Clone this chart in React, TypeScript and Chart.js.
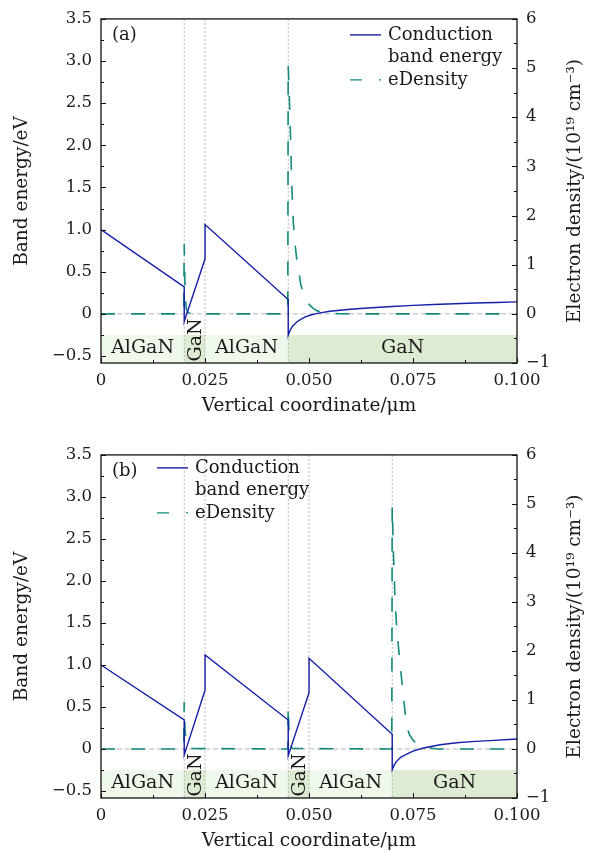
import React, { useEffect, useRef } from 'react';
import { Chart, registerables } from 'chart.js';

Chart.register(...registerables);

const FONT = 'DejaVu Serif';
const TEXT_COLOR = '#1a1a1a';
const CB_COLOR = '#1420a8';
const ED_COLOR = '#138a7c';
const ALGAN_FILL = '#eff9eb';
const GAN_FILL = '#dcebd1';

// ---- axis ticks ----
const X_TICKS = [0, 0.025, 0.05, 0.075, 0.1];
const X_TICK_LABELS = ['0', '0.025', '0.050', '0.075', '0.100'];
const LEFT_TICKS = [-0.5, 0, 0.5, 1, 1.5, 2, 2.5, 3, 3.5];
const LEFT_TICK_LABELS = ['\u22120.5', '0', '0.5', '1.0', '1.5', '2.0', '2.5', '3.0', '3.5'];
const RIGHT_TICKS = [-1, 0, 1, 2, 3, 4, 5, 6];
const RIGHT_TICK_LABELS = ['\u22121', '0', '1', '2', '3', '4', '5', '6'];
const LAYER_TOP = -0.25;

// ---- panel (a) ----
const A_CB_X = [0, 0.02, 0.02001, 0.025, 0.02501, 0.045, 0.04501, 0.0455, 0.046, 0.047, 0.048, 0.049, 0.05, 0.052, 0.055, 0.06, 0.065, 0.07, 0.075, 0.08, 0.085, 0.09, 0.095, 0.1];
const A_CB_Y = [1.0, 0.32, -0.09, 0.65, 1.06, 0.17, -0.255, -0.19, -0.15, -0.1, -0.065, -0.04, -0.02, 0.005, 0.03, 0.055, 0.073, 0.088, 0.1, 0.11, 0.12, 0.128, 0.135, 0.142];
const A_ED_X = [0, 0.0199, 0.02, 0.0202, 0.0205, 0.021, 0.025, 0.0449, 0.045, 0.0452, 0.0455, 0.0458, 0.0462, 0.0466, 0.047, 0.0475, 0.048, 0.049, 0.05, 0.051, 0.052, 0.054, 0.057, 0.06, 0.1];
const A_ED_Y = [0, 0, 1.42, 0.5, 0.1, 0.02, 0, 0, 5.05, 4.6, 3.8, 2.8, 1.9, 1.45, 1.15, 0.9, 0.6, 0.33, 0.19, 0.11, 0.06, 0.02, 0.005, 0, 0];
const A_LAYER_START = [0, 0.02, 0.025, 0.045];
const A_LAYER_END = [0.02, 0.025, 0.045, 0.1];
const A_LAYER_NAME = ['AlGaN', 'GaN', 'AlGaN', 'GaN'];
const A_INTERFACES = [0.02, 0.025, 0.045];

// ---- panel (b) ----
const B_CB_X = [0, 0.02, 0.02001, 0.025, 0.02501, 0.045, 0.04501, 0.05, 0.05001, 0.07, 0.07001, 0.0705, 0.071, 0.072, 0.0735, 0.075, 0.0775, 0.08, 0.0815, 0.0855, 0.09, 0.0935, 0.1];
const B_CB_Y = [1.0, 0.345, -0.07, 0.7, 1.12, 0.345, -0.08, 0.67, 1.08, 0.176, -0.245, -0.19, -0.15, -0.1, -0.06, -0.025, 0.012, 0.035, 0.05, 0.075, 0.09, 0.1, 0.118];
const B_ED_X = [0, 0.0199, 0.02, 0.0202, 0.0205, 0.021, 0.0449, 0.045, 0.0452, 0.0455, 0.046, 0.0699, 0.07, 0.0703, 0.0707, 0.0711, 0.0717, 0.0723, 0.0729, 0.0735, 0.0742, 0.075, 0.076, 0.0775, 0.079, 0.081, 0.1];
const B_ED_Y = [0, 0, 0.96, 0.4, 0.08, 0.01, 0, 0.88, 0.35, 0.07, 0.01, 0, 4.95, 4.0, 3.0, 2.45, 1.9, 1.4, 0.9, 0.45, 0.28, 0.18, 0.1, 0.05, 0.02, 0, 0];
const B_LAYER_START = [0, 0.02, 0.025, 0.045, 0.05, 0.07];
const B_LAYER_END = [0.02, 0.025, 0.045, 0.05, 0.07, 0.1];
const B_LAYER_NAME = ['AlGaN', 'GaN', 'AlGaN', 'GaN', 'AlGaN', 'GaN'];
const B_INTERFACES = [0.02, 0.025, 0.045, 0.05, 0.07];

const SERIES_NAMES = ['Conduction', 'band energy', 'eDensity'];

type PanelDef = {
  tag: string;
  cbX: number[]; cbY: number[];
  edX: number[]; edY: number[];
  layerStart: number[]; layerEnd: number[]; layerName: string[];
  interfaces: number[];
  height: number;
  plotBottom: number;
  titlePadBottom: number;
  legendLeft: number | null;
  legendRightOffset: number | null;
  legendRows: number[];
};

const PANEL_A: PanelDef = {
  tag: '(a)',
  cbX: A_CB_X, cbY: A_CB_Y, edX: A_ED_X, edY: A_ED_Y,
  layerStart: A_LAYER_START, layerEnd: A_LAYER_END, layerName: A_LAYER_NAME,
  interfaces: A_INTERFACES,
  height: 436, plotBottom: 363, titlePadBottom: 19,
  legendLeft: null, legendRightOffset: 167, legendRows: [16, 38, 61],
};
const PANEL_B: PanelDef = {
  tag: '(b)',
  cbX: B_CB_X, cbY: B_CB_Y, edX: B_ED_X, edY: B_ED_Y,
  layerStart: B_LAYER_START, layerEnd: B_LAYER_END, layerName: B_LAYER_NAME,
  interfaces: B_INTERFACES,
  height: 416, plotBottom: 362, titlePadBottom: 0,
  legendLeft: 56, legendRightOffset: null, legendRows: [13, 35, 58],
};

const labelFor = (vals: number[], labels: string[]) => (v: number) => {
  const i = vals.findIndex((t) => Math.abs(t - v) < 1e-9);
  return i >= 0 ? labels[i] : '';
};

function range(a: number, b: number, step: number) {
  const out: number[] = [];
  const n = Math.round((b - a) / step);
  for (let i = 0; i <= n; i++) out.push(a + i * step);
  return out;
}

function makeDecor(p: PanelDef) {
  return {
    id: 'decor',
    beforeDatasetsDraw(chart: any) {
      const { ctx, chartArea: ca, scales } = chart;
      const xs = scales.x;
      const ys = scales.y;
      ctx.save();
      const yTop = ys.getPixelForValue(LAYER_TOP);
      for (let i = 0; i < p.layerStart.length; i++) {
        const x0 = xs.getPixelForValue(p.layerStart[i]);
        const x1 = xs.getPixelForValue(p.layerEnd[i]);
        ctx.fillStyle = p.layerName[i] === 'GaN' ? GAN_FILL : ALGAN_FILL;
        ctx.fillRect(x0, yTop, x1 - x0, ca.bottom - yTop);
      }
      // zero line
      const y0 = ys.getPixelForValue(0);
      ctx.strokeStyle = '#b8b8b8';
      ctx.lineWidth = 1;
      ctx.setLineDash([5, 3]);
      ctx.beginPath();
      ctx.moveTo(ca.left, y0);
      ctx.lineTo(ca.right, y0);
      ctx.stroke();
      // interface lines
      ctx.strokeStyle = '#a6a6a6';
      ctx.lineWidth = 0.8;
      ctx.setLineDash([2, 2]);
      p.interfaces.forEach((v) => {
        const x = xs.getPixelForValue(v);
        ctx.beginPath();
        ctx.moveTo(x, ca.top);
        ctx.lineTo(x, ca.bottom);
        ctx.stroke();
      });
      ctx.setLineDash([]);
      // layer labels
      ctx.fillStyle = TEXT_COLOR;
      ctx.font = `19px "${FONT}"`;
      ctx.textAlign = 'center';
      ctx.textBaseline = 'middle';
      for (let i = 0; i < p.layerStart.length; i++) {
        const x0 = xs.getPixelForValue(p.layerStart[i]);
        const x1 = xs.getPixelForValue(p.layerEnd[i]);
        const xc = (x0 + x1) / 2;
        if (p.layerEnd[i] - p.layerStart[i] < 0.01) {
          ctx.save();
          ctx.translate(xc + 1, ys.getPixelForValue(-0.31));
          ctx.rotate(-Math.PI / 2);
          ctx.fillText(p.layerName[i], 0, 0);
          ctx.restore();
        } else {
          ctx.fillText(p.layerName[i], xc, ys.getPixelForValue(-0.41));
        }
      }
      ctx.restore();
    },
    afterDraw(chart: any) {
      const { ctx, chartArea: ca, scales } = chart;
      const xs = scales.x;
      const ys = scales.y;
      const y2 = scales.y2;
      ctx.save();
      // box
      ctx.strokeStyle = '#111';
      ctx.lineWidth = 1.3;
      ctx.strokeRect(ca.left, ca.top, ca.right - ca.left, ca.bottom - ca.top);
      // inward ticks
      ctx.lineWidth = 1;
      ctx.beginPath();
      range(0, 0.1, 0.0125).forEach((v, i) => {
        const x = Math.round(xs.getPixelForValue(v)) + 0.5;
        const len = i % 2 === 0 ? 5 : 3;
        ctx.moveTo(x, ca.bottom);
        ctx.lineTo(x, ca.bottom - len);
      });
      range(-0.5, 3.5, 0.25).forEach((v, i) => {
        const y = Math.round(ys.getPixelForValue(v)) + 0.5;
        const len = i % 2 === 0 ? 5 : 3;
        ctx.moveTo(ca.left, y);
        ctx.lineTo(ca.left + len, y);
      });
      range(-1, 6, 0.5).forEach((v, i) => {
        const y = Math.round(y2.getPixelForValue(v)) + 0.5;
        const len = i % 2 === 0 ? 5 : 3;
        ctx.moveTo(ca.right, y);
        ctx.lineTo(ca.right - len, y);
      });
      ctx.stroke();

      // right axis title (reads bottom-to-top)
      ctx.fillStyle = TEXT_COLOR;
      ctx.font = `18.5px "${FONT}"`;
      ctx.textAlign = 'center';
      ctx.textBaseline = 'middle';
      ctx.save();
      ctx.translate(575, (ca.top + ca.bottom) / 2);
      ctx.rotate(-Math.PI / 2);
      ctx.fillText('Electron density/(10\u00b9\u2079 cm\u207b\u00b3)', 0, 0);
      ctx.restore();

      // panel tag
      ctx.font = `18px "${FONT}"`;
      ctx.textAlign = 'left';
      ctx.fillText(p.tag, ca.left + 11, ca.top + 16);

      // legend
      const sx0 = p.legendLeft !== null ? ca.left + p.legendLeft : ca.right - (p.legendRightOffset as number);
      const sx1 = sx0 + 31;
      const tx = sx1 + 7;
      const r = p.legendRows.map((d) => ca.top + d);
      ctx.lineWidth = 1.4;
      ctx.strokeStyle = CB_COLOR;
      ctx.beginPath();
      ctx.moveTo(sx0, r[0]);
      ctx.lineTo(sx1, r[0]);
      ctx.stroke();
      ctx.strokeStyle = ED_COLOR;
      ctx.setLineDash([12, 17]);
      ctx.beginPath();
      ctx.moveTo(sx0, r[2]);
      ctx.lineTo(sx1, r[2]);
      ctx.stroke();
      ctx.setLineDash([]);
      ctx.fillStyle = TEXT_COLOR;
      ctx.fillText(SERIES_NAMES[0], tx, r[0]);
      ctx.fillText(SERIES_NAMES[1], tx, r[1]);
      ctx.fillText(SERIES_NAMES[2], tx, r[2]);
      ctx.restore();
    },
  };
}

function buildConfig(p: PanelDef): any {
  const cbData = p.cbX.map((x, i) => ({ x, y: p.cbY[i] }));
  const edData = p.edX.map((x, i) => ({ x, y: p.edY[i] }));
  const tickFont = { family: FONT, size: 16.5 };
  const titleFont = { family: FONT, size: 18.5 };
  return {
    type: 'line',
    data: {
      datasets: [
        {
          label: 'Conduction band energy',
          data: cbData,
          yAxisID: 'y',
          borderColor: CB_COLOR,
          borderWidth: 1.4,
          pointRadius: 0,
          tension: 0,
          fill: false,
        },
        {
          label: 'eDensity',
          data: edData,
          yAxisID: 'y2',
          borderColor: ED_COLOR,
          borderWidth: 1.6,
          borderDash: [14, 16],
          pointRadius: 0,
          tension: 0,
          fill: false,
        },
      ],
    },
    options: {
      animation: false,
      responsive: false,
      devicePixelRatio: 1,
      layout: { padding: { top: 15, left: 0, right: 0, bottom: 0 } },
      plugins: { legend: { display: false }, tooltip: { enabled: false } },
      scales: {
        x: {
          type: 'linear',
          min: 0,
          max: 0.1,
          grid: { display: false, drawTicks: false },
          border: { display: false },
          afterBuildTicks: (s: any) => {
            s.ticks = X_TICKS.map((v) => ({ value: v }));
          },
          afterFit: (s: any) => {
            s.height = p.height - p.plotBottom;
          },
          ticks: {
            autoSkip: false,
            maxRotation: 0,
            padding: 8,
            color: TEXT_COLOR,
            font: tickFont,
            callback: labelFor(X_TICKS, X_TICK_LABELS),
          },
          title: {
            display: true,
            text: 'Vertical coordinate/\u03bcm',
            color: TEXT_COLOR,
            font: titleFont,
            padding: { top: 0, bottom: p.titlePadBottom },
          },
        },
        y: {
          type: 'linear',
          position: 'left',
          min: -3.5 / 6,
          max: 3.5,
          grid: { display: false, drawTicks: false },
          border: { display: false },
          afterBuildTicks: (s: any) => {
            s.ticks = LEFT_TICKS.map((v) => ({ value: v }));
          },
          afterFit: (s: any) => {
            s.width = 101;
          },
          ticks: {
            padding: 9,
            color: TEXT_COLOR,
            font: tickFont,
            callback: labelFor(LEFT_TICKS, LEFT_TICK_LABELS),
          },
          title: {
            display: true,
            text: 'Band energy/eV',
            color: TEXT_COLOR,
            font: titleFont,
            padding: { top: 11, bottom: 0 },
          },
        },
        y2: {
          type: 'linear',
          position: 'right',
          min: -1,
          max: 6,
          grid: { display: false, drawTicks: false },
          border: { display: false },
          afterBuildTicks: (s: any) => {
            s.ticks = RIGHT_TICKS.map((v) => ({ value: v }));
          },
          afterFit: (s: any) => {
            s.width = 80;
          },
          ticks: {
            padding: 9,
            color: TEXT_COLOR,
            font: tickFont,
            callback: labelFor(RIGHT_TICKS, RIGHT_TICK_LABELS),
          },
          title: { display: false },
        },
      },
    },
    plugins: [makeDecor(p)],
  };
}

function Panel({ p }: { p: PanelDef }) {
  const ref = useRef<HTMLCanvasElement>(null);
  useEffect(() => {
    const chart = new Chart(ref.current as HTMLCanvasElement, buildConfig(p));
    return () => chart.destroy();
  }, [p]);
  return (
    <canvas
      ref={ref}
      width={597}
      height={p.height}
      style={{ display: 'block', width: 597, height: p.height }}
    />
  );
}

export default function App() {
  return (
    <div style={{ position: 'absolute', left: 0, top: 0, width: 597, height: 852, background: '#fff' }}>
      <Panel p={PANEL_A} />
      <Panel p={PANEL_B} />
    </div>
  );
}
